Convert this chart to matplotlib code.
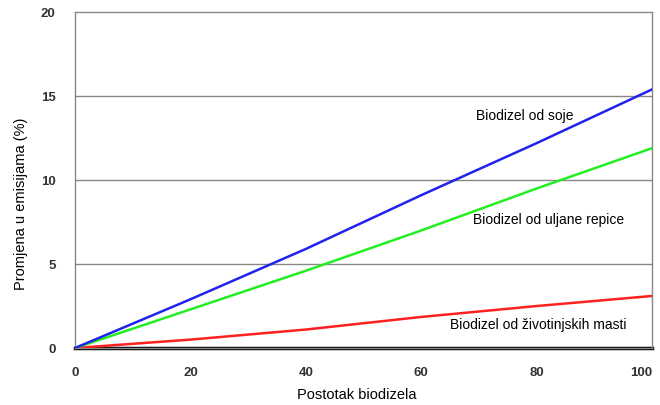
import matplotlib

matplotlib.use("Agg")
import matplotlib.pyplot as plt

# Postotak biodizela u smjesi (%)
postotak = [0, 20, 40, 60, 80, 100]
# Promjena u emisijama (%) po vrsti biodizela, ocitano sa slike
soja = [0, 2.9, 5.9, 9.1, 12.2, 15.4]
repica = [0, 2.3, 4.6, 7.0, 9.5, 11.9]
masti = [0, 0.5, 1.1, 1.85, 2.5, 3.1]
nula = [0, 0, 0, 0, 0, 0]

oznake = ["Biodizel od soje", "Biodizel od uljane repice",
          "Biodizel od životinjskih masti"]

plt.rcParams["font.family"] = ["Liberation Sans", "DejaVu Sans"]

fig = plt.figure(figsize=(6.6, 4.05), dpi=100)
ax = fig.add_axes([0.1136, 0.1407, 0.8744, 0.8293])

for y in (5, 10, 15):
    ax.axhline(y, color="#888888", lw=1, zorder=1)

ax.plot(postotak, nula, color="black", lw=2.5, zorder=2, clip_on=False)
ax.plot(postotak, masti, color="#ff2020", lw=1.8, zorder=3)
ax.plot(postotak, repica, color="#22ee22", lw=1.8, zorder=3)
ax.plot(postotak, soja, color="#2222ee", lw=1.8, zorder=3)

ax.text(78, 13.8, oznake[0], fontsize=10, ha="center", va="center")
ax.text(82, 7.6, oznake[1], fontsize=10, ha="center", va="center")
ax.text(80.2, 1.37, oznake[2], fontsize=10, ha="center", va="center")

ax.set_xlim(0, 100)
ax.set_ylim(0, 20)
ax.set_xticks([0, 20, 40, 60, 80, 100])
ax.set_yticks([0, 5, 10, 15, 20])
ax.tick_params(length=0, labelsize=9.5, labelcolor="#333333")
ax.tick_params(axis="x", pad=14)
ax.tick_params(axis="y", pad=14)
for lab in ax.get_xticklabels() + ax.get_yticklabels():
    lab.set_fontweight("bold")
ax.get_xticklabels()[-1].set_horizontalalignment("right")
ax.get_xticklabels()[-1].set_x(100.5)
for s in ax.spines.values():
    s.set_color("#888888")
    s.set_linewidth(1)

ax.set_xlabel("Postotak biodizela", fontsize=10.5)
ax.set_ylabel("Promjena u emisijama (%)", fontsize=10.5)
ax.xaxis.set_label_coords(0.489, -0.12)
ax.yaxis.set_label_coords(-0.081, 0.43)

fig.savefig("out.png", dpi=100)
